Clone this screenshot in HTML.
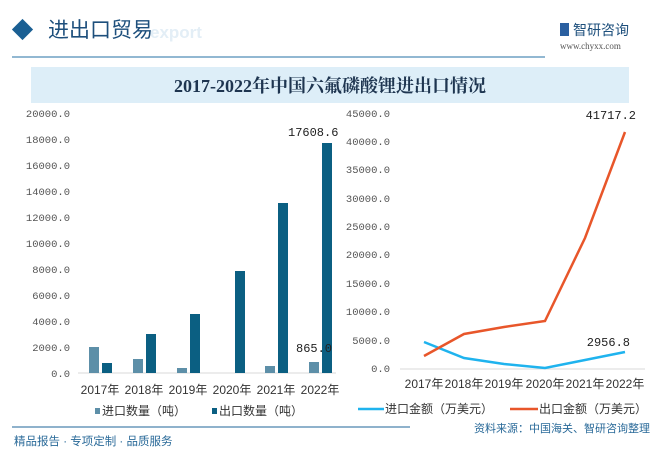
<!DOCTYPE html><html><head><meta charset="utf-8"><style>
body{margin:0;width:659px;height:461px;background:#fff;overflow:hidden;font-family:"Liberation Sans","Noto Sans CJK SC",sans-serif;}
</style></head><body>
<svg width="659" height="461" xmlns="http://www.w3.org/2000/svg" style="position:absolute;left:0;top:0">
<rect x="15" y="22" width="15" height="15" fill="#1a5f93" transform="rotate(45 22.5 29.5)"/>
<text x="48" y="37" font-size="21" fill="#1d4f7c" font-family="Noto Sans CJK SC,sans-serif">进出口贸易</text>
<text x="150" y="38" font-size="17" fill="#e3eef6" font-weight="bold">export</text>
<line x1="12" y1="57" x2="545" y2="57" stroke="#6fa1c4" stroke-width="1.5"/>
<rect x="560" y="23" width="9" height="13" fill="#2a5fa0"/>
<text x="573" y="35" font-size="14" fill="#1d4f7c" font-family="Noto Sans CJK SC,sans-serif">智研咨询</text>
<text x="560" y="49" font-size="9" fill="#555" font-family="Liberation Serif,serif">www.chyxx.com</text>
<rect x="31" y="67" width="598" height="36" fill="#ddeef8"/>
<text x="330" y="92" font-size="18" font-weight="bold" fill="#1e3550" text-anchor="middle" font-family="Liberation Serif,Noto Serif CJK SC,serif">2017-2022年中国六氟磷酸锂进出口情况</text>
<g font-size="10.5" fill="#555" text-anchor="end" font-family="Liberation Mono,monospace">
<text x="70" y="377">0.0</text><text x="70" y="351">2000.0</text><text x="70" y="325">4000.0</text><text x="70" y="299">6000.0</text><text x="70" y="273">8000.0</text><text x="70" y="247">10000.0</text><text x="70" y="221">12000.0</text><text x="70" y="195">14000.0</text><text x="70" y="169">16000.0</text><text x="70" y="143">18000.0</text><text x="70" y="117">20000.0</text>
<text x="390" y="372">0.0</text><text x="390" y="344">5000.0</text><text x="390" y="315">10000.0</text><text x="390" y="287">15000.0</text><text x="390" y="258">20000.0</text><text x="390" y="230">25000.0</text><text x="390" y="202">30000.0</text><text x="390" y="173">35000.0</text><text x="390" y="145">40000.0</text><text x="390" y="117">45000.0</text>
</g>
<line x1="78" y1="373" x2="336" y2="373" stroke="#d9d9d9"/>
<g fill="#5d8fa8">
<rect x="89" y="347" width="10" height="26"/><rect x="133" y="359" width="10" height="14"/><rect x="177" y="368" width="10" height="5"/><rect x="265" y="366" width="10" height="7"/><rect x="309" y="362" width="10" height="11"/>
</g>
<g fill="#0b5f82">
<rect x="102" y="363" width="10" height="10"/><rect x="146" y="334" width="10" height="39"/><rect x="190" y="314" width="10" height="59"/><rect x="235" y="271" width="10" height="102"/><rect x="278" y="203" width="10" height="170"/><rect x="322" y="143" width="10" height="230"/>
</g>
<text x="296" y="352" font-size="12" fill="#222" font-family="Liberation Mono,monospace">865.0</text>
<text x="288" y="136" font-size="12" fill="#222" font-family="Liberation Mono,monospace">17608.6</text>
<g font-size="12" fill="#333" text-anchor="middle">
<text x="100" y="394">2017年</text><text x="144" y="394">2018年</text><text x="188" y="394">2019年</text><text x="232" y="394">2020年</text><text x="276" y="394">2021年</text><text x="320" y="394">2022年</text>
<text x="424" y="388">2017年</text><text x="464" y="388">2018年</text><text x="504" y="388">2019年</text><text x="545" y="388">2020年</text><text x="585" y="388">2021年</text><text x="625" y="388">2022年</text>
</g>
<line x1="400" y1="369" x2="645" y2="369" stroke="#d9d9d9"/>
<polyline fill="none" stroke="#1fb3ee" stroke-width="2.5" points="424,342 464,358 504,364 545,368 585,360 625,352"/>
<polyline fill="none" stroke="#e8562a" stroke-width="2.5" points="424,356 464,334 504,327 545,321 585,238 625,132"/>
<text x="630" y="346" font-size="12" fill="#222" text-anchor="end" font-family="Liberation Mono,monospace">2956.8</text>
<text x="636" y="119" font-size="12" fill="#222" text-anchor="end" font-family="Liberation Mono,monospace">41717.2</text>
<rect x="95" y="408" width="5" height="6" fill="#5d8fa8"/>
<text x="102" y="415" font-size="12" fill="#333">进口数量（吨）</text>
<rect x="212" y="408" width="5" height="6" fill="#0b5f82"/>
<text x="219" y="415" font-size="12" fill="#333">出口数量（吨）</text>
<line x1="358" y1="409" x2="384" y2="409" stroke="#1fb3ee" stroke-width="2.5"/>
<text x="385" y="413" font-size="12" fill="#333">进口金额（万美元）</text>
<line x1="510" y1="409" x2="538" y2="409" stroke="#e8562a" stroke-width="2.5"/>
<text x="539" y="413" font-size="12" fill="#333">出口金额（万美元）</text>
<text x="650" y="432" font-size="11" fill="#2a6a99" text-anchor="end">资料来源：中国海关、智研咨询整理</text>
<line x1="12" y1="427" x2="410" y2="427" stroke="#8fb2cc" stroke-width="2"/>
<text x="14" y="445" font-size="11.5" fill="#2a6a99">精品报告 · 专项定制 · 品质服务</text>
</svg>
</body></html>
